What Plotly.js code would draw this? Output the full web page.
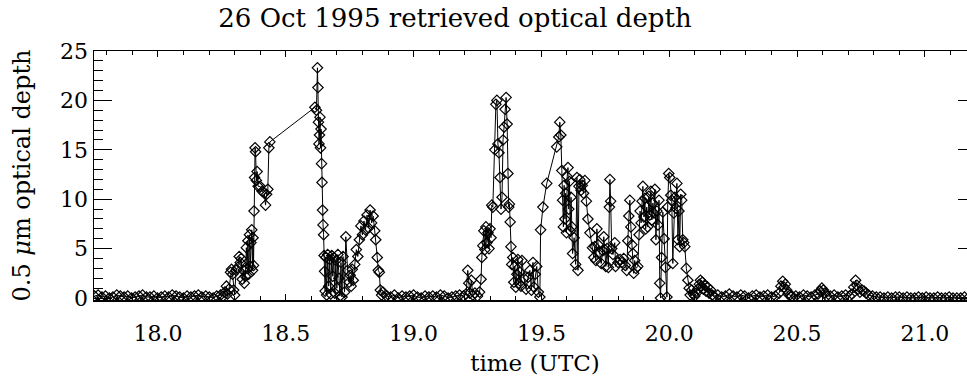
<!DOCTYPE html>
<html>
<head>
<meta charset="utf-8">
<script src="https://cdn.plot.ly/plotly-3.0.1.min.js"></script>
<style>
  html, body { margin: 0; padding: 0; background: #fff; overflow: hidden; }
  #chart { width: 985px; height: 376px; }
</style>
</head>
<body>
<div id="chart"></div>
<script>
// ---- Data (time in UTC hours, 0.5 um retrieved optical depth) ----
var clearMorning = [
  [17.752,0.2],[17.766,0.3],[17.781,0.1],[17.795,0.2],[17.810,0.0],[17.824,0.1],[17.839,0.3],[17.853,0.2],
  [17.868,0.1],[17.882,0.2],[17.897,0.0],[17.911,0.1],[17.926,0.2],[17.940,0.3],[17.955,0.1],[17.969,0.1],
  [17.984,0.2],[17.998,0.0],[18.013,0.1],[18.027,0.2],[18.042,0.1],[18.056,0.3],[18.071,0.2],[18.085,0.1],
  [18.100,0.0],[18.114,0.2],[18.129,0.1],[18.143,0.2],[18.158,0.3],[18.172,0.1],[18.187,0.2],[18.201,0.1],
  [18.216,0.0],[18.230,0.2],[18.245,0.3],[18.255,0.2]
];
var cloudA = [
  [18.262,0.6],[18.268,1.2],[18.272,0.4],[18.278,0.9],[18.284,2.6],[18.288,2.9],[18.292,2.4],[18.296,0.8],
  [18.300,0.3],[18.306,2.8],[18.312,3.1],[18.318,4.2],[18.322,3.6],[18.326,4.0],[18.330,1.9],[18.334,2.8],
  [18.338,1.5],[18.342,2.2],[18.346,5.1],[18.349,3.0],[18.352,5.8],[18.355,2.4],[18.358,6.4],[18.361,3.2],
  [18.364,5.6],[18.367,6.9],[18.370,2.8],[18.372,6.1],[18.374,3.3],[18.376,8.8],[18.378,12.2],[18.380,15.2],
  [18.382,14.8],[18.385,11.9],[18.388,12.8],[18.392,11.3],[18.400,11.3],[18.408,10.8],[18.416,10.6],[18.421,9.4],
  [18.425,10.5],[18.430,11.0],[18.434,15.2],[18.438,15.8]
];
var cloudB = [
  [18.614,19.3],[18.620,19.0],[18.624,23.3],[18.626,21.3],[18.628,17.8],[18.630,15.6],[18.632,16.5],[18.634,18.3],
  [18.636,15.2],[18.638,17.1],[18.640,13.6],[18.642,11.7],[18.644,8.9],[18.646,7.4],[18.648,6.4],[18.650,4.3],
  [18.652,2.7],[18.654,0.7],[18.657,4.1],[18.660,0.3],[18.664,4.4],[18.668,1.2],[18.672,3.9],[18.676,0.4],
  [18.680,4.3],[18.684,2.2],[18.688,4.1],[18.692,0.5],[18.696,3.8],[18.700,1.0],[18.704,4.4],[18.708,2.0],
  [18.712,0.2],[18.716,3.6],[18.720,0.1],[18.724,4.2],[18.730,0.6],[18.735,6.2],[18.742,2.8],[18.748,1.6],
  [18.752,2.3],[18.756,1.2],[18.760,2.9],[18.764,1.8],[18.770,3.4],[18.776,4.9],[18.782,4.2],[18.788,5.9],
  [18.794,7.3],[18.800,6.4],[18.806,7.8],[18.812,6.9],[18.818,8.4],[18.824,7.1],[18.830,8.9],[18.836,7.6],
  [18.842,8.3],[18.848,6.8],[18.852,5.9],[18.858,4.1],[18.862,2.8],[18.866,2.6],[18.870,0.8],[18.875,0.3],
  [18.880,0.6]
];
var clearMidday = [
  [18.895,0.2],[18.910,0.1],[18.925,0.3],[18.940,0.0],[18.955,0.2],[18.970,0.1],[18.985,0.2],[19.000,0.3],
  [19.015,0.1],[19.030,0.0],[19.045,0.2],[19.060,0.1],[19.075,0.2],[19.090,0.1],[19.105,0.3],[19.120,0.2],
  [19.135,0.0],[19.150,0.1],[19.165,0.2],[19.180,0.3],[19.195,0.2]
];
var cloudC = [
  [19.205,0.4],[19.212,2.8],[19.216,1.5],[19.220,0.5],[19.226,1.8],[19.232,0.3],[19.240,0.5],[19.250,0.2],
  [19.258,0.6],[19.264,1.9],[19.267,4.1],[19.271,5.3],[19.275,6.8],[19.279,4.9],[19.283,7.2],[19.287,5.6],
  [19.291,6.6],[19.295,5.0],[19.299,7.0],[19.303,6.1],[19.306,9.4],[19.310,9.2],[19.318,15.0],[19.322,19.6],
  [19.326,20.0],[19.330,15.6],[19.334,14.7],[19.338,12.2],[19.342,9.0],[19.346,10.2],[19.350,16.0],[19.354,17.3],
  [19.358,19.1],[19.362,20.3],[19.366,17.6],[19.369,12.6],[19.372,9.2],[19.375,9.5],[19.378,7.7],[19.381,5.2],
  [19.384,3.4],[19.388,4.1],[19.392,1.6],[19.396,3.2],[19.400,1.1],[19.404,2.4],[19.408,3.9],[19.412,1.5],
  [19.416,2.6],[19.420,1.2],[19.424,3.8],[19.432,2.0],[19.440,0.9],[19.448,2.1],[19.455,2.8],[19.461,0.8],
  [19.467,3.6],[19.471,1.1],[19.476,2.4],[19.482,3.2],[19.488,0.6],[19.494,0.1],[19.497,6.9],[19.506,9.2],
  [19.521,11.6],[19.560,15.3],[19.568,16.3],[19.572,17.8],[19.576,16.5],[19.580,12.9],[19.583,9.9],[19.586,7.2],
  [19.589,11.4],[19.592,8.0],[19.595,10.6],[19.598,6.6],[19.601,12.3],[19.604,13.2],[19.607,9.0],[19.610,11.8],
  [19.613,6.8],[19.616,10.2],[19.619,7.2],[19.622,4.5],[19.628,6.1],[19.634,3.4],[19.639,12.2],[19.643,2.8],
  [19.647,11.3],[19.650,12.0],[19.655,10.9],[19.660,11.4],[19.665,10.6],[19.670,11.9],[19.676,9.8],[19.682,8.0],
  [19.690,6.6],[19.700,5.1],[19.705,4.1],[19.709,5.2],[19.713,3.8],[19.717,7.0],[19.722,5.4],[19.728,4.6],
  [19.734,3.5],[19.740,4.8],[19.744,6.2],[19.748,4.9],[19.752,3.2],[19.757,5.0],[19.762,3.1],[19.766,9.2],
  [19.768,12.0],[19.771,9.8],[19.775,5.0],[19.780,4.4],[19.787,5.6],[19.790,3.2],[19.800,3.6],[19.808,3.9],
  [19.815,3.6],[19.822,4.0],[19.828,3.3],[19.834,2.8],[19.838,5.8],[19.842,8.3],[19.846,9.9],[19.850,7.2],
  [19.854,5.4],[19.858,4.5],[19.861,2.5],[19.865,3.8],[19.870,3.0],[19.877,3.2],[19.882,6.4],[19.886,8.8],
  [19.890,7.6],[19.894,9.8],[19.897,11.3],[19.901,8.2],[19.905,10.1],[19.908,7.0],[19.912,9.2],[19.916,7.2],
  [19.920,10.3],[19.924,8.4],[19.928,10.8],[19.932,7.9],[19.936,9.6],[19.940,8.6],[19.944,11.0],[19.948,5.9],
  [19.952,8.8],[19.956,7.4],[19.960,9.9],[19.963,1.5],[19.966,0.0],[19.970,4.1],[19.975,8.7],[19.980,6.0],
  [19.985,3.1],[19.991,0.1],[19.994,9.2],[19.998,12.6],[20.002,12.2],[20.006,10.4],[20.010,9.9],[20.014,3.5],
  [20.018,8.6],[20.022,10.2],[20.026,9.1],[20.030,11.6],[20.034,5.9],[20.038,8.8],[20.041,5.2],[20.045,10.5],
  [20.049,9.9],[20.053,5.9],[20.057,5.6],[20.061,5.2],[20.067,3.0],[20.073,1.8],[20.078,1.0],[20.082,0.3],
  [20.088,0.8],[20.094,0.4],[20.100,0.2],[20.106,0.5],[20.112,0.9],[20.118,1.4],[20.122,1.8],[20.126,1.2],
  [20.130,1.6],[20.134,0.9],[20.138,1.3],[20.144,0.7],[20.150,1.1],[20.156,0.5],[20.162,0.8],[20.168,0.3],
  [20.175,0.2]
];
var clearAfternoon = [
  [20.190,0.3],[20.205,0.1],[20.220,0.2],[20.235,0.4],[20.250,0.2],[20.265,0.1],[20.280,0.3],[20.295,0.2],
  [20.310,0.0],[20.325,0.2],[20.340,0.3],[20.355,0.1],[20.370,0.2],[20.385,0.3],[20.400,0.1],[20.415,0.2],
  [20.430,0.5],[20.437,1.2],[20.444,1.7],[20.449,1.1],[20.454,1.4],[20.459,0.8],[20.465,0.4],[20.472,0.3],
  [20.480,0.2],[20.495,0.2],[20.510,0.1],[20.525,0.3],[20.540,0.2],[20.555,0.1],[20.570,0.3],[20.582,0.4],
  [20.590,0.7],[20.597,1.0],[20.603,0.8],[20.609,0.5],[20.616,0.2],[20.630,0.2],[20.645,0.3],[20.660,0.1],
  [20.675,0.2],[20.690,0.3],[20.705,0.2],[20.715,0.4],[20.722,1.1],[20.729,1.8],[20.734,1.3],[20.739,0.9],
  [20.746,0.6],[20.754,0.8],[20.762,0.7],[20.770,0.5],[20.780,0.3],[20.795,0.2],[20.810,0.1],[20.825,0.1],
  [20.840,0.0],[20.855,0.1],[20.870,0.0],[20.885,0.1],[20.900,0.1],[20.915,0.0],[20.930,0.1],[20.945,0.0],
  [20.960,0.0],[20.975,0.1],[20.990,0.0],[21.005,0.1],[21.020,0.0],[21.035,0.0],[21.050,0.1],[21.065,0.0],
  [21.080,0.0],[21.095,0.1],[21.110,0.0],[21.125,0.0],[21.140,0.0],[21.155,0.1],[21.170,0.0]
];

var xTickVals = [18.0, 18.5, 19.0, 19.5, 20.0, 20.5, 21.0];
var xTickText = ['18.0', '18.5', '19.0', '19.5', '20.0', '20.5', '21.0'];
var yTickVals = [0, 5, 10, 15, 20, 25];
var yTickText = ['0', '5', '10', '15', '20', '25'];

// ---- Build trace ----
var all = [].concat(clearMorning, cloudA, cloudB, clearMidday, cloudC, clearAfternoon);
var times = all.map(function (p) { return p[0]; });
var depth = all.map(function (p) { return p[1]; });

var fontFam = 'DejaVu Serif, Liberation Serif, serif';

var trace = {
  type: 'scatter',
  mode: 'lines+markers',
  x: times,
  y: depth,
  line: { color: 'black', width: 1 },
  marker: { symbol: 'diamond-open', size: 8, color: 'black', line: { width: 1.2, color: 'black' } },
  hoverinfo: 'x+y'
};

var layout = {
  width: 985,
  height: 376,
  margin: { l: 94, r: 9, t: 51, b: 76, pad: 0 },
  paper_bgcolor: 'white',
  plot_bgcolor: 'white',
  showlegend: false,
  font: { family: fontFam, color: 'black', size: 22 },
  title: {
    text: '26 Oct 1995 retrieved optical depth',
    font: { family: fontFam, size: 26, color: 'black' },
    xref: 'container', x: 455 / 985, xanchor: 'center',
    yref: 'container', y: 1 - 18 / 376, yanchor: 'middle'
  },
  xaxis: {
    range: [17.75, 21.2],
    tickmode: 'array',
    tickvals: xTickVals,
    ticktext: xTickText,
    ticks: 'inside', ticklen: 6, tickwidth: 1, tickcolor: 'black',
    minor: { tickmode: 'linear', tick0: 18, dtick: 0.1, ticks: 'inside', ticklen: 4, tickwidth: 1, tickcolor: 'black', showgrid: false },
    showline: true, linecolor: 'black', linewidth: 1.5, mirror: 'ticks',
    showgrid: false, zeroline: false,
    ticklabelstandoff: 13,
    tickfont: { family: fontFam, size: 22, color: 'black' },
    title: { text: 'time (UTC)', font: { family: fontFam, size: 23, color: 'black' }, standoff: 19 }
  },
  yaxis: {
    range: [-0.2, 25],
    tickmode: 'array',
    tickvals: yTickVals,
    ticktext: yTickText,
    ticks: 'inside', ticklen: 18, tickwidth: 1, tickcolor: 'black',
    minor: { tickmode: 'linear', tick0: 0, dtick: 1, ticks: 'inside', ticklen: 9, tickwidth: 1, tickcolor: 'black', showgrid: false },
    showline: true, linecolor: 'black', linewidth: 1.5, mirror: 'ticks',
    showgrid: false, zeroline: false,
    tickfont: { family: fontFam, size: 22, color: 'black' },
    title: { text: '0.5 <i>μ</i>m optical depth', font: { family: fontFam, size: 24, color: 'black' }, standoff: 22 }
  }
};

Plotly.newPlot('chart', [trace], layout, { displayModeBar: false, staticPlot: true });
</script>
</body>
</html>
